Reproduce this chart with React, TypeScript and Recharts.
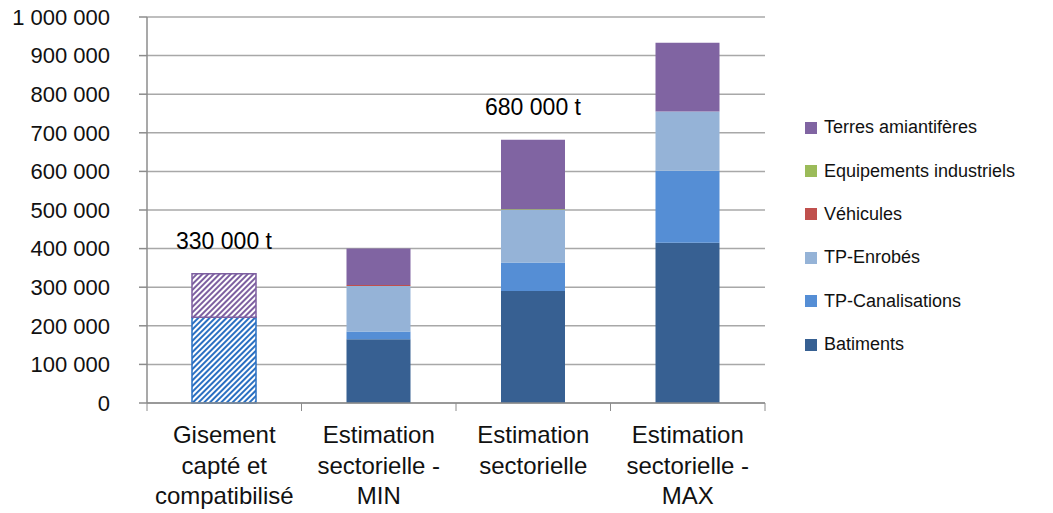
import { BarChart, Bar, XAxis, YAxis, CartesianGrid, Cell } from 'recharts';

const categoryLines = [
  ['Gisement', 'capté et', 'compatibilisé'],
  ['Estimation', 'sectorielle -', 'MIN'],
  ['Estimation', 'sectorielle'],
  ['Estimation', 'sectorielle -', 'MAX'],
];

const batiments = [222000, 165000, 290000, 415000];
const canalisations = [0, 20000, 74000, 187000];
const enrobes = [0, 118000, 136000, 153000];
const vehicules = [0, 3000, 0, 0];
const equipements = [0, 0, 2000, 0];
const terres = [113000, 94000, 180000, 178000];

const totalLabels = ['330 000 t', '', '680 000 t', ''];
const yTicks = [0, 100000, 200000, 300000, 400000, 500000, 600000, 700000, 800000, 900000, 1000000];

// stacking order, bottom to top
const series = [
  { key: 'batiments', name: 'Batiments', color: '#376092', values: batiments },
  { key: 'canalisations', name: 'TP-Canalisations', color: '#558ed5', values: canalisations },
  { key: 'enrobes', name: 'TP-Enrobés', color: '#95b3d7', values: enrobes },
  { key: 'vehicules', name: 'Véhicules', color: '#c0504d', values: vehicules },
  { key: 'equipements', name: 'Equipements industriels', color: '#9bbb59', values: equipements },
  { key: 'terres', name: 'Terres amiantifères', color: '#8064a2', values: terres },
];

// first category is drawn hatched
const hatched: Record<string, { id: string; color: string }> = {
  batiments: { id: 'hatchBlue', color: '#2a70c2' },
  terres: { id: 'hatchPurple', color: '#7d5fa0' },
};

const data = categoryLines.map((lines, i) => {
  const row: Record<string, any> = { category: lines.join(' ') };
  series.forEach((s) => { row[s.key] = s.values[i]; });
  return row;
});

const FONT = '"Liberation Sans", Arial, sans-serif';
const AXIS = '#8c8c8c';

const fmt = (v: number) => String(v).replace(/\B(?=(\d{3})+(?!\d))/g, ' ');

const CategoryTick = (props: any) => {
  const { x, y, payload } = props;
  const lines = categoryLines[payload.index] || [];
  const half = payload.offset || 0;
  const last = payload.index === categoryLines.length - 1;
  return (
    <g>
      <line x1={x - half} x2={x - half} y1={y} y2={y + 8} stroke={AXIS} />
      {last && <line x1={x + half} x2={x + half} y1={y} y2={y + 8} stroke={AXIS} />}
      <text x={x} y={y + 40} textAnchor="middle" fill="#111" fontSize={24} fontFamily={FONT}>
        {lines.map((l, i) => (
          <tspan key={i} x={x} dy={i === 0 ? 0 : 30.5}>{l}</tspan>
        ))}
      </text>
    </g>
  );
};

const TotalLabel = (props: any) => {
  const { x, y, width, index } = props;
  const txt = totalLabels[index];
  if (!txt) return null;
  return (
    <text x={x + width / 2} y={y - 25} textAnchor="middle" fill="#000" fontSize={23} fontFamily={FONT}>
      {txt}
    </text>
  );
};

export default function App() {
  return (
    <div style={{ position: 'absolute', left: 0, top: 0, width: 1053, height: 513, background: '#fff' }}>
      <BarChart width={1053} height={513} data={data} margin={{ top: 17, right: 288, left: 0, bottom: 0 }}>
        <defs>
          {Object.values(hatched).map((h) => (
            <pattern key={h.id} id={h.id} patternUnits="userSpaceOnUse" width={4} height={4} patternTransform="rotate(45)">
              <rect width={4} height={4} fill="#fff" />
              <rect width={2} height={4} fill={h.color} />
            </pattern>
          ))}
        </defs>
        <CartesianGrid vertical={false} stroke="#a8a8a8" strokeWidth={1.5} />
        <XAxis
          dataKey="category"
          height={110}
          axisLine={{ stroke: AXIS, strokeWidth: 1.5 }}
          tickLine={false}
          tickSize={0}
          tickMargin={0}
          interval={0}
          tick={<CategoryTick />}
        />
        <YAxis
          width={147}
          domain={[0, 1000000]}
          ticks={yTicks}
          interval={0}
          tickFormatter={fmt}
          axisLine={{ stroke: AXIS, strokeWidth: 1.5 }}
          tickLine={{ stroke: AXIS, strokeWidth: 1.5 }}
          tickSize={8}
          tickMargin={29}
          tick={{ fill: '#111', fontSize: 22, fontFamily: FONT }}
        />
        {series.map((s) => (
          <Bar
            key={s.key}
            dataKey={s.key}
            name={s.name}
            stackId="a"
            fill={s.color}
            barSize={64}
            isAnimationActive={false}
            label={s.key === 'terres' ? <TotalLabel /> : undefined}
          >
            {data.map((_, i) => {
              const h = hatched[s.key];
              if (i === 0 && h) {
                return <Cell key={i} fill={`url(#${h.id})`} stroke={h.color} strokeWidth={1.5} />;
              }
              return <Cell key={i} fill={s.color} />;
            })}
          </Bar>
        ))}
      </BarChart>
      <div style={{ position: 'absolute', left: 805, top: 106, fontFamily: FONT, fontSize: 18, color: '#111' }}>
        {[...series].reverse().map((s) => (
          <div key={s.key} style={{ height: 43.4, display: 'flex', alignItems: 'center' }}>
            <span style={{ width: 12, height: 12, background: s.color, marginRight: 7, display: 'inline-block' }} />
            <span>{s.name}</span>
          </div>
        ))}
      </div>
    </div>
  );
}
